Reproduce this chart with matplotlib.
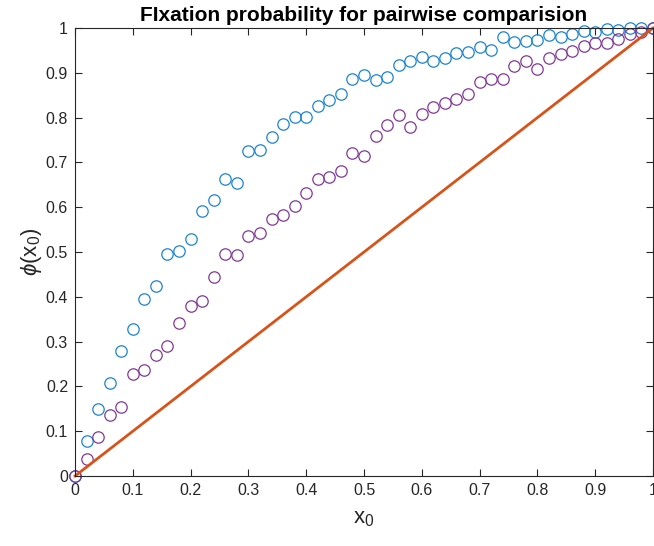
import numpy as np
import matplotlib.pyplot as plt

plt.rcParams['font.family'] = ['Liberation Sans', 'DejaVu Sans']
plt.rcParams['mathtext.fontset'] = 'custom'
plt.rcParams['mathtext.rm'] = 'Liberation Sans'
plt.rcParams['mathtext.it'] = 'Liberation Sans:italic'

# initial frequency x0, 0 to 1 in steps of 0.02
x0 = np.linspace(0, 1, 51)

# fixation probability, first series (blue)
phi_blue = [0.0, 0.079, 0.150, 0.207, 0.278, 0.328, 0.394, 0.424, 0.496, 0.503,
            0.528, 0.592, 0.615, 0.663, 0.653, 0.726, 0.728, 0.756, 0.785, 0.801,
            0.802, 0.827, 0.839, 0.853, 0.886, 0.895, 0.884, 0.891, 0.917, 0.926,
            0.935, 0.927, 0.932, 0.945, 0.946, 0.958, 0.952, 0.981, 0.969, 0.971,
            0.974, 0.985, 0.981, 0.986, 0.993, 0.992, 0.998, 0.996, 0.999, 0.999,
            1.0]

# fixation probability, second series (purple)
phi_purple = [0.0, 0.039, 0.086, 0.137, 0.153, 0.227, 0.237, 0.271, 0.291, 0.341,
              0.380, 0.391, 0.445, 0.495, 0.494, 0.535, 0.543, 0.573, 0.582, 0.603,
              0.631, 0.662, 0.667, 0.681, 0.720, 0.715, 0.760, 0.783, 0.806, 0.780,
              0.809, 0.824, 0.833, 0.842, 0.853, 0.879, 0.887, 0.886, 0.916, 0.926,
              0.909, 0.932, 0.941, 0.949, 0.960, 0.967, 0.966, 0.975, 0.986, 0.992,
              1.0]

# neutral reference line
neutral_x = [0, 1]
neutral_y = [0, 1]

fig = plt.figure(figsize=(6.54, 5.46), dpi=100)
ax = fig.add_axes([0.1147, 0.1282, 0.8838, 0.8205])

ax.plot(x0, phi_blue, 'o', ms=8.2, mfc='none', mec='#1B85D2', mew=0.9, clip_on=False)
ax.plot(x0, phi_purple, 'o', ms=8.2, mfc='none', mec='#84379A', mew=0.9, clip_on=False)
ax.plot(neutral_x, neutral_y, '-', color='#D95319', lw=2, clip_on=False)

ax.set_xlim(0, 1)
ax.set_ylim(0, 1)
ax.set_xticks(np.arange(0, 1.01, 0.1))
ax.set_yticks(np.arange(0, 1.01, 0.1))
ax.set_xticklabels(['0', '0.1', '0.2', '0.3', '0.4', '0.5', '0.6', '0.7', '0.8', '0.9', '1'])
ax.set_yticklabels(['0', '0.1', '0.2', '0.3', '0.4', '0.5', '0.6', '0.7', '0.8', '0.9', '1'])
ax.tick_params(direction='in', top=True, right=True, length=5, width=0.8,
               labelsize=11.5, colors='#262626', pad=5)
for s in ax.spines.values():
    s.set_color('#262626')
    s.set_linewidth(0.8)

ax.set_title('FIxation probability for pairwise comparision', fontsize=15,
             fontweight='bold', pad=5)
ax.set_xlabel(r'x$_0$', fontsize=16, color='#262626', labelpad=7)
ax.set_ylabel(r'$\phi$(x$_0$)', fontsize=16, color='#262626', labelpad=1)

fig.savefig('out.png', dpi=100)
